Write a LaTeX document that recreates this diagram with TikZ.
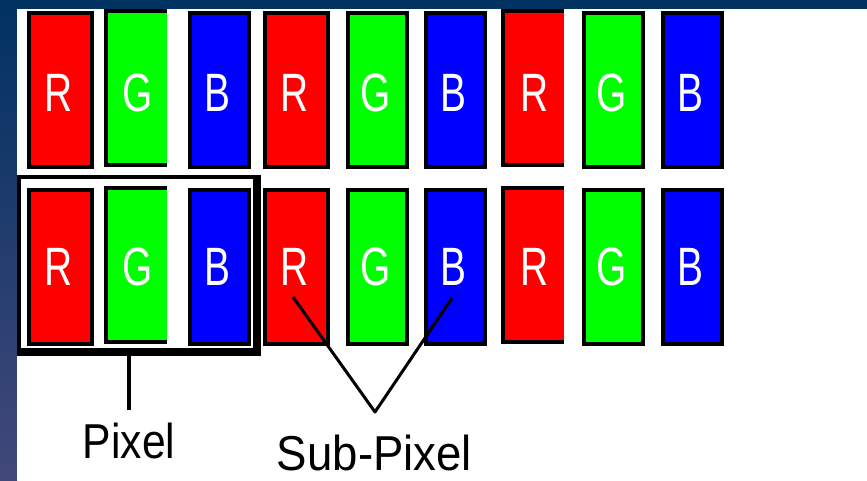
\documentclass[tikz,border=0pt]{standalone}
\usepackage{fontspec}
\setmainfont{Liberation Sans}
\definecolor{bgtop}{RGB}{0,50,98}
\definecolor{bgbot}{RGB}{66,72,122}
\definecolor{pxred}{RGB}{255,0,0}
\definecolor{pxgreen}{RGB}{0,255,0}
\definecolor{pxblue}{RGB}{0,0,255}
\tikzset{
  cell/.style={fill=#1, draw=black, line width=4pt, inner sep=0pt, anchor=north west},
  opencell/.style={fill=#1, inner sep=0pt, anchor=north west},
  letter/.style={text=white, font=\fontsize{54}{54}\selectfont, anchor=base, inner sep=0pt},
  lbl/.style={text=black, font=\fontsize{49}{49}\selectfont, anchor=base, inner sep=0pt},
  lead/.style={line width=3pt, line join=round},
  tick/.style={line width=4pt},
  border/.style={line width=4pt, line join=miter}
}
\begin{document}
\begin{tikzpicture}[x=1pt,y=-1pt]
\useasboundingbox (0,0) rectangle (867,480);
% background
\fill[bgtop] (0,0) rectangle (867,9);
\shade[top color=bgtop, bottom color=bgbot] (0,0) rectangle (17,480);
\fill[white] (17,9) rectangle (867,480);
% pixel frame
\node[fill=black, anchor=north west, minimum width=244, minimum height=181, inner sep=0pt] (pixframe) at (17,175) {};
\node[fill=white, anchor=north west, minimum width=232, minimum height=169, inner sep=0pt] (pixinner) at (21,179) {};
% sub-pixel cells
\foreach \row/\tp/\bt/\bs in {a/9/167/111, b/186/344/285}{
  \foreach \i/\l/\r/\c/\t in {1/25/92/pxred/R, 3/186/249/pxblue/B, 4/261/328/pxred/R, 5/344/407/pxgreen/G, 6/422/485/pxblue/B, 8/580/643/pxgreen/G, 9/659/722/pxblue/B}{
    \node[cell=\c, minimum width=\r-\l-4, minimum height=\bt-\tp-4] (\row\i) at (\l+2,\tp+2) {};
    \node[letter] (\row\i t) at ({(\l+\r)/2},\bs) {\scalebox{0.72}[1]{\t}};
  }
  \foreach \i/\l/\r/\c/\t in {2/104/167/pxgreen/G, 7/501/564/pxred/R}{
    \node[opencell=\c, minimum width=\r-\l, minimum height=\bt-\tp] (\row\i) at (\l,\tp) {};
    \draw[border] (\r,\tp+2) -- (\l+2,\tp+2) -- (\l+2,\bt-2) -- (\r,\bt-2);
    \node[letter] (\row\i t) at ({(\l+\r+4)/2},\bs) {\scalebox{0.72}[1]{\t}};
  }
}
% pixel label
\coordinate (pixtick) at (129,356);
\coordinate (pixend) at (129,410);
\draw[tick] (pixtick) -- (pixend);
\node[lbl] (pixlabel) at (129,458) {\scalebox{0.87}[1]{Pixel}};
% sub-pixel label
\coordinate (subl) at (293,297);
\coordinate (subr) at (452,298);
\coordinate (subv) at (375,412);
\draw[lead] (subl) -- (subv) -- (subr);
\node[lbl] (sublabel) at (374.5,470) {\scalebox{0.93}[1]{Sub-Pixel}};
\end{tikzpicture}
\end{document}
